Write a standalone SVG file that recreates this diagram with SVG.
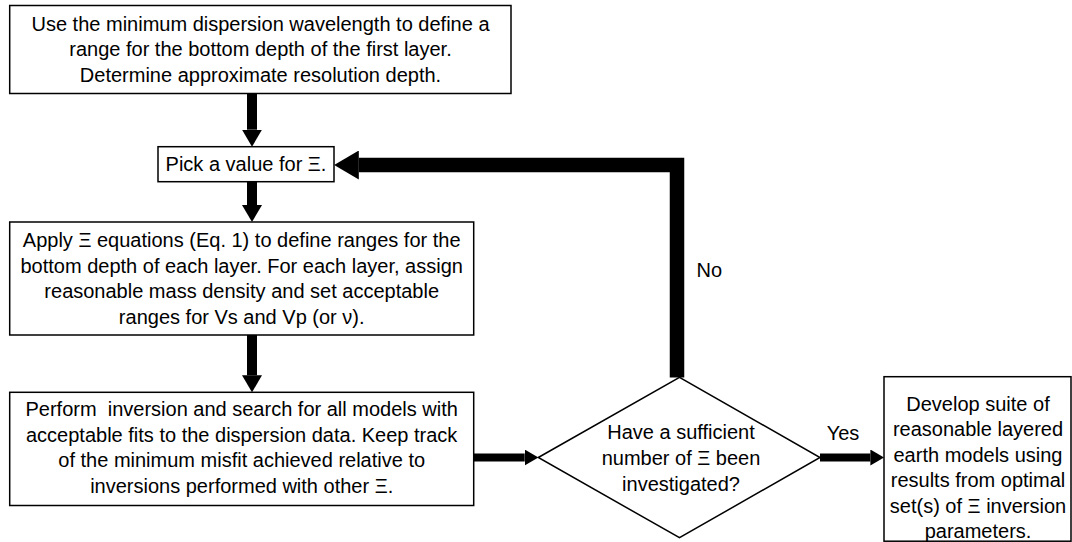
<svg xmlns="http://www.w3.org/2000/svg" width="1072" height="542" viewBox="0 0 1072 542">
<defs>
<style>
.box{fill:#fff;stroke:#000;stroke-width:1.5}
.t{font-family:"Liberation Sans",Arial,sans-serif;font-size:20px;fill:#000;text-anchor:middle}
.lbl{font-family:"Liberation Sans",Arial,sans-serif;font-size:20px;fill:#000}
.c{fill:none;stroke:#000;stroke-linecap:butt;stroke-linejoin:miter;marker-end:url(#ah)}
</style>
<marker id="ah" markerUnits="strokeWidth" viewBox="0 0 1.7 2" refX="0" refY="1" markerWidth="1.7" markerHeight="2" orient="auto">
<path d="M0,0 L1.7,1 L0,2 Z" fill="#000"/>
</marker>
</defs>
<rect width="1072" height="542" fill="#fff"/>
<g id="connectors">
<line class="c" x1="252" y1="93.5" x2="252" y2="129.7" stroke-width="10"/>
<line class="c" x1="252" y1="181.7" x2="252" y2="205" stroke-width="10"/>
<line class="c" x1="252" y1="335" x2="252" y2="375.3" stroke-width="10"/>
<line class="c" x1="474" y1="457.5" x2="524.7" y2="457.5" stroke-width="8"/>
<line class="c" x1="820" y1="457.5" x2="870.4" y2="457.5" stroke-width="8"/>
<path class="c" d="M677,377.5 V165 H358.8" stroke-width="14.5"/>
<text class="lbl" x="696.5" y="277.3">No</text>
<text class="t" x="843" y="440">Yes</text>
</g>
<g id="node-first-layer">
<rect class="box" x="9.7" y="5.5" width="501.3" height="88"/>
<text class="t" x="260.5" y="30.7">Use the minimum dispersion wavelength to define a</text>
<text class="t" x="260.5" y="56.2">range for the bottom depth of the first layer.</text>
<text class="t" x="260.5" y="81.7">Determine approximate resolution depth.</text>
</g>
<g id="node-pick">
<rect class="box" x="158" y="146.7" width="176" height="35"/>
<text class="t" x="246" y="171">Pick a value for Ξ.</text>
</g>
<g id="node-apply">
<rect class="box" x="9.7" y="222" width="464" height="113"/>
<text class="t" x="241.7" y="247">Apply Ξ equations (Eq. 1) to define ranges for the</text>
<text class="t" x="241.7" y="272.5">bottom depth of each layer. For each layer, assign</text>
<text class="t" x="241.7" y="298">reasonable mass density and set acceptable</text>
<text class="t" x="241.7" y="323.5">ranges for Vs and Vp (or ν).</text>
</g>
<g id="node-inversion">
<rect class="box" x="9.7" y="392.3" width="464" height="113.2"/>
<text class="t" x="241.7" y="416" style="white-space:pre">Perform  inversion and search for all models with</text>
<text class="t" x="241.7" y="441.6">acceptable fits to the dispersion data. Keep track</text>
<text class="t" x="241.7" y="467.2">of the minimum misfit achieved relative to</text>
<text class="t" x="241.7" y="492.7">inversions performed with other Ξ.</text>
</g>
<g id="node-decision">
<polygon class="box" points="538.3,457.5 679.5,377.3 820,457.5 679.5,537.7"/>
<text class="t" x="681" y="439.3">Have a sufficient</text>
<text class="t" x="681" y="464.9">number of Ξ been</text>
<text class="t" x="681" y="490.5">investigated?</text>
</g>
<g id="node-develop">
<rect class="box" x="884" y="376.7" width="187" height="164.5"/>
<text class="t" x="978" y="410.7">Develop suite of</text>
<text class="t" x="978" y="436.1">reasonable layered</text>
<text class="t" x="978" y="461.6">earth models using</text>
<text class="t" x="978" y="487">results from optimal</text>
<text class="t" x="978" y="512.5">set(s) of Ξ inversion</text>
<text class="t" x="978" y="537.5">parameters.</text>
</g>
</svg>
